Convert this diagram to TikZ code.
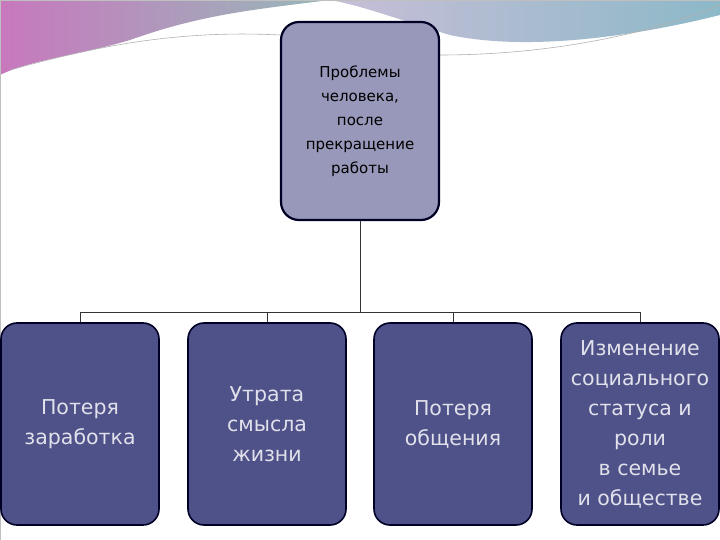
\documentclass[tikz,border=0pt]{standalone}
\usepackage{fontspec}
\setmainfont{DejaVu Sans}
\begin{document}
\begin{tikzpicture}[x=1pt,y=-1pt,
 top/.style={draw=black!85!blue,line width=2.2pt,fill={rgb,255:red,152;green,152;blue,186},rounded corners=18pt,minimum width=158pt,minimum height=198pt,align=center,font=\fontsize{15}{24}\selectfont,text=black},
 bot/.style={draw=black!85!blue,line width=1.6pt,fill={rgb,255:red,79;green,81;blue,137},rounded corners=16pt,minimum width=158pt,minimum height=202pt,align=center,font=\fontsize{20.5}{30}\selectfont,text={rgb,255:red,225;green,225;blue,235}},
 con/.style={draw=black!80,line width=0.9pt}]
\useasboundingbox (0,0) rectangle (720,540);
\fill[white] (0,0) rectangle (720,540);
\shade[left color={rgb,255:red,200;green,120;blue,190},right color={rgb,255:red,150;green,185;blue,185}] (0,0) -- (330,0) .. controls (250,10) and (200,15) .. (130,40) .. controls (80,55) and (30,60) .. (0,75) -- cycle;
\shade[left color={rgb,255:red,200;green,190;blue,215},right color={rgb,255:red,140;green,185;blue,200}] (330,0) -- (720,0) -- (720,15) .. controls (620,40) and (520,50) .. (450,35) .. controls (400,20) and (360,5) .. (330,0) -- cycle;
\draw[gray!60,line width=0.6pt] (10,70) .. controls (100,45) and (180,30) .. (280,35);
\draw[gray!60,line width=0.6pt] (440,55) .. controls (560,55) and (660,30) .. (720,5);
\draw[gray!50,line width=0.5pt] (0,0) rectangle (720,540);
\node[top] (t) at (360,121) {Проблемы\\человека,\\после\\прекращение\\работы};
\node[bot] (a) at (80,424) {Потеря\\заработка};
\node[bot] (b) at (267,424) {Утрата\\смысла\\жизни};
\node[bot] (c) at (453,424) {Потеря\\общения};
\node[bot] (d) at (640,424) {Изменение\\социального\\статуса и\\роли\\в семье\\и обществе};
\coordinate (j) at (360,312);
\draw[con] (t.south) -- (j);
\draw[con] (a.north) -- ++(0,-10) -| (d.north);
\draw[con] (b.north) -- ++(0,-10);
\draw[con] (c.north) -- ++(0,-10);
\end{tikzpicture}
\end{document}
